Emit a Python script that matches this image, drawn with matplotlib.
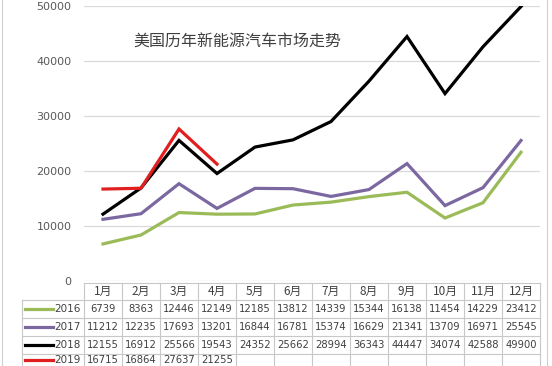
import matplotlib
matplotlib.use("Agg")
import matplotlib.pyplot as plt
from matplotlib.lines import Line2D

plt.rcParams['font.family'] = ['Noto Sans CJK SC', 'DejaVu Sans']

months = ["1月", "2月", "3月", "4月", "5月", "6月", "7月", "8月", "9月", "10月", "11月", "12月"]
years = ["2016", "2017", "2018", "2019"]
s2016 = [6739, 8363, 12446, 12149, 12185, 13812, 14339, 15344, 16138, 11454, 14229, 23412]
s2017 = [11212, 12235, 17693, 13201, 16844, 16781, 15374, 16629, 21341, 13709, 16971, 25545]
s2018 = [12155, 16912, 25566, 19543, 24352, 25662, 28994, 36343, 44447, 34074, 42588, 49900]
s2019 = [16715, 16864, 27637, 21255]
series = [s2016, s2017, s2018, s2019]
colors = ["#9BBB59", "#7B68A0", "#000000", "#E02020"]
yticks = [0, 10000, 20000, 30000, 40000, 50000]
title = "美国历年新能源汽车市场走势"

W, H = 552, 366
fig = plt.figure(figsize=(W / 100, H / 100), dpi=100)
fig.patch.set_facecolor("white")

x0, x1 = 84, 540
ytop, ybot = 6, 281
ax = fig.add_axes([x0 / W, 1 - ybot / H, (x1 - x0) / W, (ybot - ytop) / H])
ax.set_xlim(-0.5, 11.5)
ax.set_ylim(0, 50000)
ax.set_yticks(yticks)
ax.set_yticklabels([str(v) for v in yticks], fontsize=8, color="#595959",
                   family="DejaVu Sans")
ax.tick_params(axis="y", length=0, pad=9)
ax.set_xticks([])
for sp in ax.spines.values():
    sp.set_visible(False)
ax.grid(axis="y", color="#D9D9D9", linewidth=0.9)
ax.set_axisbelow(True)

for s, c in zip(series, colors):
    ax.plot(range(len(s)), s, color=c, linewidth=2.3, solid_joinstyle="miter")

fig.text(133 / W, 1 - 42 / H, title, fontsize=11.5, color="#404040", va="center", ha="left")

# table
def fy(py):
    return 1 - py / H

def fx(px):
    return px / W

colw = (x1 - x0) / 12
row_edges = [283, 300, 318, 336, 354, 366]
gc = "#C8C8C8"
lw = 0.8
fig.add_artist(Line2D([fx(x0), fx(x1)], [fy(row_edges[0])] * 2, color=gc, lw=lw))
for ry in row_edges[1:-1]:
    fig.add_artist(Line2D([fx(22), fx(x1)], [fy(ry)] * 2, color=gc, lw=lw))
for i in range(13):
    px = x0 + i * colw
    fig.add_artist(Line2D([fx(px)] * 2, [fy(row_edges[0]), fy(366)], color=gc, lw=lw))
fig.add_artist(Line2D([fx(22)] * 2, [fy(row_edges[1]), fy(366)], color=gc, lw=lw))

tc = "#404040"
for i, m in enumerate(months):
    cx = x0 + (i + 0.5) * colw
    fig.text(fx(cx), fy((row_edges[0] + row_edges[1]) / 2), m, fontsize=8.5,
             color=tc, ha="center", va="center")
for r, (yr, s, c) in enumerate(zip(years, series, colors)):
    cy = (row_edges[r + 1] + row_edges[r + 2]) / 2
    if r == 3:
        cy = 360
    fig.add_artist(Line2D([fx(25), fx(53)], [fy(cy)] * 2, color=c, lw=2.3))
    fig.text(fx(81), fy(cy), yr, fontsize=7.5, color=tc, ha="right", va="center",
             family="DejaVu Sans")
    for i, v in enumerate(s):
        cx = x0 + (i + 0.5) * colw
        fig.text(fx(cx), fy(cy), str(v), fontsize=7.2, color=tc, ha="center",
                 va="center", family="DejaVu Sans")

# outer border
fig.add_artist(Line2D([fx(2), fx(2)], [0, 1], color="#D0D0D0", lw=0.8))
fig.add_artist(Line2D([fx(547), fx(547)], [0, 1], color="#D0D0D0", lw=0.8))

fig.savefig("out.png", dpi=100)
